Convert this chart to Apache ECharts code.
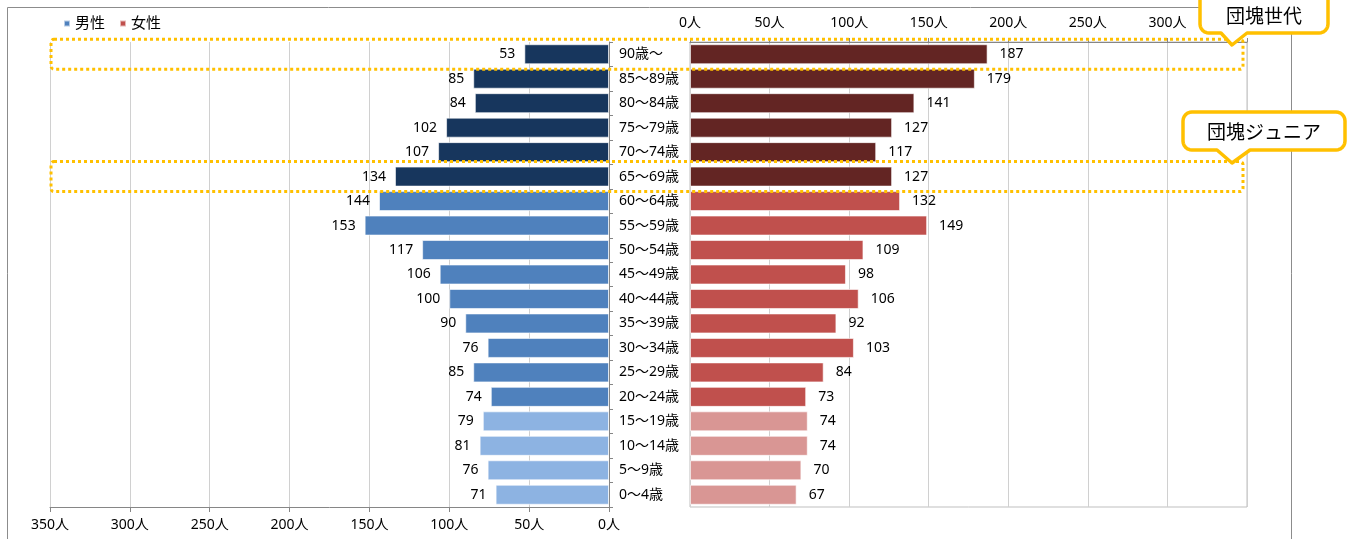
<!DOCTYPE html>
<html>
<head>
<meta charset="utf-8">
<script src="https://cdn.jsdelivr.net/npm/echarts@6/dist/echarts.min.js"></script>
<style>
  html, body { margin: 0; padding: 0; background: #fff; }
  #chart { width: 1353px; height: 539px; }
</style>
</head>
<body>
<div id="chart"></div>
<script>
// Age groups, oldest at the top
const ageGroups = ['90歳〜', '85〜89歳', '80〜84歳', '75〜79歳', '70〜74歳', '65〜69歳',
  '60〜64歳', '55〜59歳', '50〜54歳', '45〜49歳', '40〜44歳', '35〜39歳', '30〜34歳',
  '25〜29歳', '20〜24歳', '15〜19歳', '10〜14歳', '5〜9歳', '0〜4歳'];
const male = [53, 85, 84, 102, 107, 134, 144, 153, 117, 106, 100, 90, 76, 85, 74, 79, 81, 76, 71];
const female = [187, 179, 141, 127, 117, 127, 132, 149, 109, 98, 106, 92, 103, 84, 73, 74, 74, 70, 67];
const axisTicks = [0, 50, 100, 150, 200, 250, 300, 350];
const seriesNames = ['男性', '女性'];
const callouts = [
  { text: '団塊世代', row: 0 },
  { text: '団塊ジュニア', row: 5 }
];

const FONT = '"Noto Sans", "Noto Sans CJK JP", sans-serif';
// colour bands: 65+ (dark), 20-64 (mid), 0-19 (light)
const maleColors = ['#17365d', '#4f81bd', '#8db3e2'];
const femaleColors = ['#632523', '#c0504d', '#d99694'];
function band(i) { return i < 6 ? 0 : (i < 15 ? 1 : 2); }

const chart = echarts.init(document.getElementById('chart'));
const axisMax = axisTicks[axisTicks.length - 1];
const step = axisTicks[1] - axisTicks[0];

const option = {
  animation: false,
  textStyle: { fontFamily: FONT },
  legend: {
    left: 58, top: 11,
    itemWidth: 6, itemHeight: 6, itemGap: 14, icon: 'rect',
    textStyle: { fontSize: 15, color: '#000', fontFamily: FONT },
    data: [
      { name: seriesNames[0], itemStyle: { color: maleColors[1] } },
      { name: seriesNames[1], itemStyle: { color: femaleColors[1] } }
    ]
  },
  grid: [
    { left: 50, right: 744, top: 42, height: 465 },
    { left: 690, right: 106, top: 42, height: 465, show: true, borderColor: '#bfbfbf', borderWidth: 1 }
  ],
  xAxis: [
    {
      gridIndex: 0, type: 'value', inverse: true, min: 0, max: axisMax, interval: step,
      position: 'bottom',
      axisLine: { show: true, lineStyle: { color: '#868686' } },
      axisTick: { show: true, length: 5, lineStyle: { color: '#868686' } },
      splitLine: { show: true, lineStyle: { color: '#d0d0d0' } },
      axisLabel: { formatter: '{value}人', fontSize: 14, color: '#000', margin: 11, fontFamily: FONT }
    },
    {
      gridIndex: 1, type: 'value', min: 0, max: axisMax, interval: step,
      position: 'top',
      axisLine: { show: true, lineStyle: { color: '#868686' } },
      axisTick: { show: true, length: 4, lineStyle: { color: '#868686' } },
      splitLine: { show: true, lineStyle: { color: '#d0d0d0' } },
      axisLabel: { formatter: '{value}人', fontSize: 14, color: '#000', margin: 12, fontFamily: FONT }
    }
  ],
  yAxis: [
    {
      gridIndex: 0, type: 'category', data: ageGroups, inverse: true, position: 'right',
      axisLine: { show: true, lineStyle: { color: '#868686' } },
      axisTick: { show: true, length: 4, lineStyle: { color: '#868686' } },
      axisLabel: { fontSize: 14, color: '#000', margin: 10, fontFamily: FONT }
    },
    {
      gridIndex: 1, type: 'category', data: ageGroups, inverse: true,
      axisLine: { show: false }, axisTick: { show: false }, axisLabel: { show: false }
    }
  ],
  series: [
    {
      name: seriesNames[0], type: 'bar', xAxisIndex: 0, yAxisIndex: 0, data: male,
      barWidth: 20,
      itemStyle: { color: p => maleColors[band(p.dataIndex)], borderColor: 'rgba(255,255,255,0.6)', borderWidth: 1 },
      label: { show: true, position: 'left', distance: 9, fontSize: 14, color: '#000', fontFamily: FONT }
    },
    {
      name: seriesNames[1], type: 'bar', xAxisIndex: 1, yAxisIndex: 1, data: female,
      barWidth: 20,
      itemStyle: { color: p => femaleColors[band(p.dataIndex)], borderColor: 'rgba(255,255,255,0.6)', borderWidth: 1 },
      label: { show: true, position: 'right', distance: 12, fontSize: 14, color: '#000', fontFamily: FONT }
    }
  ]
};
chart.setOption(option);

// Callout bubble outline: rounded box with a pointer on its lower edge, as polygon points
function arc(pts, cx, cy, r, a0, a1) {
  for (let i = 0; i <= 6; i++) {
    const a = a0 + (a1 - a0) * i / 6;
    pts.push([cx + r * Math.cos(a), cy + r * Math.sin(a)]);
  }
}
function bubblePoints(x0, y0, x1, y1, r, pl, tx, ty, pr) {
  const pts = [];
  const P = Math.PI;
  arc(pts, x0 + r, y0 + r, r, P, 1.5 * P);
  arc(pts, x1 - r, y0 + r, r, 1.5 * P, 2 * P);
  arc(pts, x1 - r, y1 - r, r, 0, 0.5 * P);
  pts.push([pr, y1], [tx, ty], [pl, y1]);
  arc(pts, x0 + r, y1 - r, r, 0.5 * P, P);
  return pts;
}

const gold = '#ffc000';
const graphics = [
  { type: 'rect', shape: { x: 7.5, y: 7.5, width: 1284, height: 600 }, style: { fill: 'none', stroke: '#8c8c8c', lineWidth: 1 }, z: 1, silent: true }
];

// dotted frames around the highlighted rows, spanning both halves
const xLeft = chart.convertToPixel({ xAxisIndex: 0 }, axisMax) + 1;
const xRight = chart.convertToPixel({ xAxisIndex: 1 }, axisMax) - 4;
const bubbles = [
  { box: [1200, -12, 1328, 33], ptr: [1221, 1232, 45, 1247] },
  { box: [1183, 112, 1345, 150], ptr: [1217, 1232, 163, 1250] }
];
callouts.forEach((c, k) => {
  const yc = chart.convertToPixel({ yAxisIndex: 0 }, ageGroups[c.row]);
  graphics.push({
    type: 'rect', z: 90, silent: true,
    shape: { x: xLeft, y: yc - 15, width: xRight - xLeft, height: 30, r: 3 },
    style: { fill: 'none', stroke: gold, lineWidth: 3, lineDash: [3, 3] }
  });
  const b = bubbles[k];
  graphics.push({
    type: 'polygon', z: 100, silent: true,
    shape: { points: bubblePoints(b.box[0], b.box[1], b.box[2], b.box[3], 9, b.ptr[0], b.ptr[1], b.ptr[2], b.ptr[3]) },
    style: { fill: '#fff', stroke: gold, lineWidth: 3.5, lineJoin: 'round' }
  });
  graphics.push({
    type: 'text', z: 101, silent: true,
    x: (b.box[0] + b.box[2]) / 2, y: (Math.max(b.box[1], 0) + b.box[3]) / 2 + (k === 0 ? -1 : 1),
    style: { text: c.text, fontSize: 19, fontFamily: '"Noto Sans CJK JP", sans-serif', fill: '#000', align: 'center', verticalAlign: 'middle' }
  });
});
chart.setOption({ graphic: graphics });
</script>
</body>
</html>
